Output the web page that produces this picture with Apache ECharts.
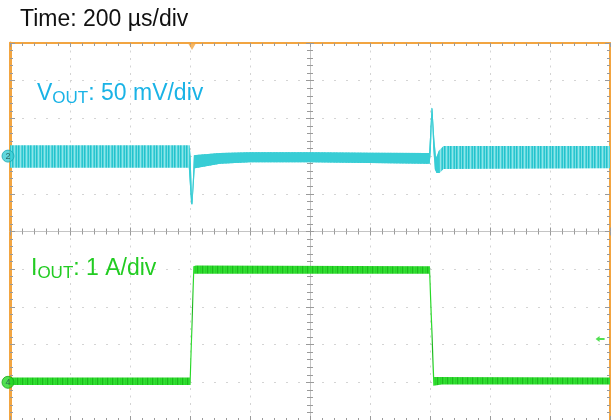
<!DOCTYPE html>
<html><head><meta charset="utf-8">
<script src="https://cdn.jsdelivr.net/npm/echarts@6/dist/echarts.min.js"></script>
<style>html,body{margin:0;padding:0;background:#fff}#c{width:614px;height:420px}</style>
</head><body><div id="c"></div>
<script>
// Horizontal: time in µs relative to screen centre (200 µs/div, 10 div)
const timeRange = [-1000, 1000];
const timePerDiv = 200;
// Vertical: screen divisions relative to centre line (10 div)
const divRange = [-5, 5];

// VOUT trace envelope (upper / lower edge), time µs -> divisions
const voutUpperT = [-1000, -401, -398, -393, -387, -380, -300, -200, 0, 200, 390, 397, 400, 405, 408, 414, 420, 430, 445, 1000];
const voutUpperV = [2.29, 2.29, 1.95, 0.84, 2.02, 2.03, 2.08, 2.10, 2.10, 2.09, 2.08, 2.08, 2.50, 3.28, 3.26, 2.50, 1.95, 2.15, 2.27, 2.27];
const voutLowerT = [-1000, -404, -396, -392, -384, -370, -300, -200, 0, 200, 390, 399, 403, 407, 411, 416, 422, 432, 445, 1000];
const voutLowerV = [1.69, 1.69, 0.72, 0.72, 1.68, 1.70, 1.80, 1.84, 1.84, 1.82, 1.80, 1.80, 2.20, 3.08, 2.20, 1.65, 1.55, 1.55, 1.66, 1.68];
// stretch of VOUT drawn as a clean trace (load steps and quiet section)
const voutQuiet = [-404, 432];

// IOUT trace envelope
const ioutUpperT = [-1000, -401, -389, -380, 400, 414, 1000];
const ioutUpperV = [-3.87, -3.87, -0.92, -0.90, -0.92, -3.86, -3.87];
const ioutLowerT = [-1000, -398, -386, 397, 411, 440, 1000];
const ioutLowerV = [-4.07, -4.07, -1.12, -1.12, -4.09, -4.06, -4.06];

// Scope markers
const channelRefs = [[timeRange[0], 2, '2'], [timeRange[0], -4, '4']];
const triggerTime = -400;
const triggerLevel = [967, -2.85];

const C_VOUT = '#38cdd5', C_IOUT = '#27d827', C_ORANGE = '#f2a541';

function stripes(colors) {
  const c = document.createElement('canvas');
  c.width = colors.length; c.height = 2;
  const g = c.getContext('2d');
  colors.forEach((col, i) => { g.fillStyle = col; g.fillRect(i, 0, 1, 2); });
  return { image: c, repeat: 'repeat' };
}
function envelope(ut, uv, lt, lv, range) {
  const inR = t => !range || (t >= range[0] && t <= range[1]);
  const pts = [];
  ut.forEach((t, i) => { if (inR(t)) pts.push([t, uv[i]]); });
  for (let i = lt.length - 1; i >= 0; i--) if (inR(lt[i])) pts.push([lt[i], lv[i]]);
  return pts;
}
function bandSeries(name, pts, fill, z) {
  return {
    type: 'custom', name, xAxisIndex: 0, yAxisIndex: 0, data: pts,
    renderItem: function (params, api) {
      if (params.dataIndex !== 0) return;
      return { type: 'polygon', shape: { points: pts.map(p => api.coord(p)) }, style: { fill: fill } };
    },
    silent: true, z: z || 5
  };
}

const tickC = '#9a9a9a';
const baseX = { type: 'value', min: timeRange[0], max: timeRange[1], interval: timePerDiv, axisLabel: { show: false }, splitLine: { show: false } };
const baseY = { type: 'value', min: divRange[0], max: divRange[1], interval: 1, axisLabel: { show: false }, splitLine: { show: false } };
const tick = (len) => ({ show: true, inside: true, length: len, lineStyle: { color: tickC } });
const minor = (len) => ({ show: true, splitNumber: 5, length: len, lineStyle: { color: tickC } });

const voutNoisy = stripes(['#22c2cc', '#4fd3da', '#8fe5e9', '#4fd3da', '#2bc6cf', '#7adfe4']);
const ioutFill = stripes(['#27d827', '#2fdc2f', '#1fb81f', '#2ad92a', '#33de33']);

const chart = echarts.init(document.getElementById('c'), null, { renderer: 'canvas' });
chart.setOption({
  animation: false,
  backgroundColor: '#fff',
  grid: { left: 10, top: 43, width: 600, height: 377, containLabel: false },
  xAxis: [
    Object.assign({}, baseX, { position: 'bottom', axisLine: { show: false, onZero: false }, axisTick: tick(4), minorTick: minor(2),
      splitLine: { show: true, lineStyle: { color: '#d4d4d4', type: [2, 5.5], width: 1 } } }),
    Object.assign({}, baseX, { position: 'top', axisLine: { show: true, onZero: false, lineStyle: { color: C_ORANGE, width: 2 } }, axisTick: tick(4), minorTick: minor(3) }),
    Object.assign({}, baseX, { position: 'bottom', axisLine: { show: true, onZero: true, onZeroAxisIndex: 0, lineStyle: { color: '#c4c4c4' } }, axisTick: tick(4), minorTick: minor(3) }),
    Object.assign({}, baseX, { position: 'top', axisLine: { show: false, onZero: true, onZeroAxisIndex: 0 }, axisTick: tick(4), minorTick: minor(3) })
  ],
  yAxis: [
    Object.assign({}, baseY, { position: 'left', axisLine: { show: true, onZero: false, lineStyle: { color: C_ORANGE, width: 3 } }, axisTick: tick(5), minorTick: minor(3),
      splitLine: { show: true, lineStyle: { color: '#d4d4d4', type: [2, 10], width: 1 } } }),
    Object.assign({}, baseY, { position: 'right', axisLine: { show: true, onZero: false, lineStyle: { color: C_ORANGE, width: 2 } }, axisTick: tick(5), minorTick: minor(3) }),
    Object.assign({}, baseY, { position: 'left', axisLine: { show: true, onZero: true, onZeroAxisIndex: 0, lineStyle: { color: '#c4c4c4' } }, axisTick: tick(4), minorTick: minor(3) }),
    Object.assign({}, baseY, { position: 'right', axisLine: { show: false, onZero: true, onZeroAxisIndex: 0 }, axisTick: tick(4), minorTick: minor(3) })
  ],
  series: [
    bandSeries('VOUT', envelope(voutUpperT, voutUpperV, voutLowerT, voutLowerV), voutNoisy, 5),
    bandSeries('VOUT quiet', envelope(voutUpperT, voutUpperV, voutLowerT, voutLowerV, voutQuiet), C_VOUT, 6),
    bandSeries('IOUT', envelope(ioutUpperT, ioutUpperV, ioutLowerT, ioutLowerV), ioutFill, 5),
    { type: 'scatter', xAxisIndex: 0, yAxisIndex: 0, z: 10, silent: true,
      data: channelRefs.map((r, i) => ({ value: [r[0], r[1]], itemStyle: { color: i === 0 ? C_VOUT : C_IOUT, borderColor: i === 0 ? '#1aa7b0' : '#18a818', borderWidth: 1 },
        label: { show: true, position: 'inside', formatter: r[2], fontSize: 9, fontFamily: 'Liberation Sans', color: '#1d4d4d' } })),
      symbol: 'circle', symbolSize: 12, symbolOffset: [-2, 0] },
    { type: 'scatter', xAxisIndex: 0, yAxisIndex: 0, z: 10, silent: true,
      data: [[triggerTime, divRange[1]]], symbol: 'triangle', symbolRotate: 180, symbolSize: [7, 6], symbolOffset: [2, 4],
      itemStyle: { color: C_ORANGE } },
    { type: 'scatter', xAxisIndex: 0, yAxisIndex: 0, z: 10, silent: true,
      data: [triggerLevel], symbol: 'path://M0,3 L4,0 L4,2 L9,2 L9,4 L4,4 L4,6 Z', symbolSize: [9, 6],
      itemStyle: { color: C_IOUT } }
  ],
  graphic: [
    { type: 'text', z: 20, style: { x: 20, y: 7, text: 'Time: 200 µs/div', font: '23px "Liberation Sans", Arial, sans-serif', fill: '#111', lineHeight: 26, verticalAlign: 'top' } },
    { type: 'text', z: 20, style: { x: 37, y: 80.7, verticalAlign: 'top', fill: '#1ab3e6',
      text: '{a|V}{b|OUT}{a|: 50 mV/div}',
      rich: { a: { fontSize: 23, lineHeight: 26, fontFamily: 'Liberation Sans', fill: '#1ab3e6', color: '#1ab3e6' },
              b: { fontSize: 17, lineHeight: 17, verticalAlign: 'bottom', fontFamily: 'Liberation Sans', fill: '#1ab3e6', color: '#1ab3e6' } } } },
    { type: 'text', z: 20, style: { x: 31, y: 255.7, verticalAlign: 'top', fill: '#22cc22',
      text: '{a|I}{b|OUT}{a|: 1 A/div}',
      rich: { a: { fontSize: 23, lineHeight: 26, fontFamily: 'Liberation Sans', fill: '#22cc22', color: '#22cc22' },
              b: { fontSize: 17, lineHeight: 17, verticalAlign: 'bottom', fontFamily: 'Liberation Sans', fill: '#22cc22', color: '#22cc22' } } } }
  ]
});
</script></body></html>
